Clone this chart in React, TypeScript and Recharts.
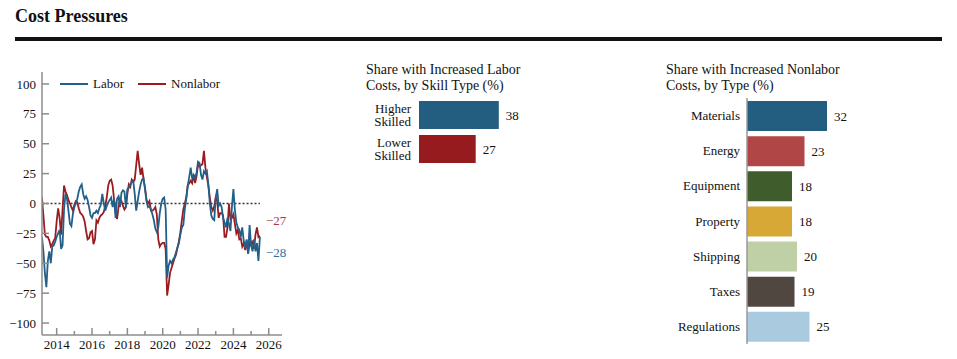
import { LineChart, Line, XAxis, YAxis, ReferenceLine, BarChart, Bar, Cell, LabelList } from "recharts";

const FONT = "'Liberation Serif', 'Times New Roman', serif";

// monthly series, first point is March 2013
const START_YEAR = 2013;
const START_MONTH = 3;

const labor = [
  -28, -40, -58, -70, -48, -40, -50, -36, -35, -32, // 2013
  -28, -25, -22, -38, -35, -5, 8, 4, -6, -17, -19, -9, // 2014
  -3, 0, 4, 10, 14, 16, 8, 4, 6, 3, -3, -10, // 2015
  -12, -8, -8, -6, -8, -4, -1, 8, 0, -6, -2, 1, // 2016
  3, 5, -3, 4, -12, 4, 6, -3, 9, 11, 10, -3, // 2017
  12, 13, 16, 18, 19, 8, -6, 2, 10, 16, 20, 21, // 2018
  12, 2, -3, -2, -5, -9, -14, -21, -24, -20, -8, 0, // 2019
  4, 5, -5, -62, -52, -48, -50, -47, -45, -41, -37, -33, // 2020
  -26, -20, -18, -5, 4, 15, 22, 30, 21, 24, 21, 26, // 2021
  35, 34, 24, 20, 27, 25, 27, 16, 0, -10, -13, -14, // 2022
  5, 12, -2, 0, -3, -12, -16, -20, -12, -17, -23, -3, // 2023
  12, -5, -16, -20, -22, -28, -20, -31, -37, -30, -42, -18, // 2024
  -35, -40, -30, -40, -33, -48, -28, // 2025
];

const nonlabor = [
  5, -10, -26, -28, -28, -31, -36, -34, -31, -29, // 2013
  -15, -4, -12, -26, -5, 15, 10, 7, 3, 0, -3, -6, // 2014
  -1, 2, 1, -4, -8, -9, -11, -15, -23, -30, -29, -24, // 2015
  -23, -34, -30, -14, -16, -12, -10, -9, -7, -2, 5, 15, // 2016
  19, 20, 15, 3, -8, -13, -3, 4, 2, -2, -5, -3, // 2017
  8, 16, 14, 20, 18, 20, 32, 44, 33, 24, 30, 20, // 2018
  13, 3, 0, 2, -6, -6, -5, -3, -9, -30, -36, -34, // 2019
  -33, -33, -38, -77, -68, -58, -54, -50, -46, -43, -37, -32, // 2020
  -24, -14, -5, 0, 5, 15, 17, 19, 17, 24, 17, 23, // 2021
  33, 31, 32, 33, 44, 30, 22, 15, 5, -3, -6, -2, // 2022
  5, 2, -12, -8, -8, -10, -28, -28, -20, 0, -13, -12, // 2023
  -9, -17, -25, -22, -30, -29, -36, -33, -39, -31, -42, -33, // 2024
  -35, -31, -38, -26, -20, -28, -27, // 2025
];

const yTicks = [100, 75, 50, 25, 0, -25, -50, -75, -100];
const xTicks = [2014, 2015, 2016, 2017, 2018, 2019, 2020, 2021, 2022, 2023, 2024, 2025, 2026];

const skillTypes = ["Higher Skilled", "Lower Skilled"];
const skillValues = [38, 27];
const skillColors = ["#235e80", "#961b1e"];

const costTypes = ["Materials", "Energy", "Equipment", "Property", "Shipping", "Taxes", "Regulations"];
const costValues = [32, 23, 18, 18, 20, 19, 25];
const costColors = ["#235e80", "#b04646", "#3e5c2c", "#d8a837", "#bfd0a6", "#514741", "#aacbdf"];

const BLUE = "#236089";
const RED = "#9b1c20";
const AXIS = "#8c8c8c";

const lineData = labor.map((v, i) => ({
  t: START_YEAR + (START_MONTH - 1 + i) / 12,
  labor: v,
  nonlabor: nonlabor[i],
}));
const lastT = lineData[lineData.length - 1].t;

const skillData = skillTypes.map((name, i) => ({ name, value: skillValues[i] }));
const costData = costTypes.map((name, i) => ({ name, value: costValues[i] }));

const fmt = (v: number) => (v < 0 ? "\u2212" + Math.abs(v) : String(v));

function LineYTick({ x, y, payload }: any) {
  return (
    <g>
      <line x1={x} x2={x + 7} y1={y} y2={y} stroke={AXIS} strokeWidth={1.5} />
      <text x={x - 6} y={y} dy="0.35em" textAnchor="end" fontSize={13} fill="#111" fontFamily={FONT}>
        {fmt(payload.value)}
      </text>
    </g>
  );
}

function LineXTick({ x, y, payload }: any) {
  const major = payload.value % 2 === 0;
  return (
    <g>
      <line x1={x} x2={x} y1={y} y2={y - (major ? 7 : 4)} stroke={AXIS} strokeWidth={1.5} />
      {major && (
        <text x={x} y={y + 14} textAnchor="middle" fontSize={13} fill="#111" fontFamily={FONT}>
          {payload.value}
        </text>
      )}
    </g>
  );
}

function endLabel(color: string, dy: number) {
  return (props: any) => {
    if (props.index !== lineData.length - 1) return null;
    return (
      <text x={props.x + 6} y={props.y + dy} dy="0.35em" fontSize={13} fill={color} fontFamily={FONT}>
        {fmt(props.value)}
      </text>
    );
  };
}

function TwoLineTick({ x, y, payload }: any) {
  const [a, b] = String(payload.value).split(" ");
  return (
    <text x={x - 8} y={y} textAnchor="end" fontSize={13} fill="#111" fontFamily={FONT}>
      <tspan x={x - 8} dy={-2.5}>{a}</tspan>
      <tspan x={x - 8} dy={13.5}>{b}</tspan>
    </text>
  );
}

function OneLineTick({ x, y, payload }: any) {
  return (
    <text x={x - 7} y={y} dy="0.35em" textAnchor="end" fontSize={13} fill="#111" fontFamily={FONT}>
      {payload.value}
    </text>
  );
}

const titleStyle: React.CSSProperties = {
  position: "absolute",
  fontFamily: FONT,
  fontSize: 14,
  lineHeight: "15.5px",
  color: "#111",
  whiteSpace: "nowrap",
};

function LegendItem({ left, color, label }: { left: number; color: string; label: string }) {
  return (
    <div style={{ position: "absolute", left, top: 76, display: "flex", alignItems: "center", fontFamily: FONT, fontSize: 13, color: "#111" }}>
      <div style={{ width: 28, height: 2, background: color, marginRight: 5 }} />
      <span>{label}</span>
    </div>
  );
}

export default function App() {
  return (
    <div style={{ position: "absolute", left: 0, top: 0, width: 957, height: 359, background: "#fff", fontFamily: FONT }}>
      <div style={{ position: "absolute", left: 15, top: 7, fontSize: 18, lineHeight: "18px", fontWeight: "bold", color: "#111" }}>
        Cost Pressures
      </div>
      <div style={{ position: "absolute", left: 15, top: 37, width: 927, height: 4, background: "#111" }} />

      {/* left panel: time series */}
      <div style={{ position: "absolute", left: 0, top: 50 }}>
        <LineChart width={300} height={305} data={lineData} margin={{ top: 22, right: 18, bottom: 0, left: 0 }}>
          <XAxis
            dataKey="t"
            type="number"
            domain={[2013.17, 2026.75]}
            ticks={xTicks}
            interval={0}
            allowDataOverflow
            height={20}
            stroke={AXIS}
            strokeWidth={1.5}
            tickLine={false}
            tickSize={0}
            tickMargin={0}
            tick={<LineXTick />}
          />
          <YAxis
            type="number"
            domain={[-110, 110]}
            ticks={yTicks}
            interval={0}
            width={42}
            stroke={AXIS}
            strokeWidth={1.5}
            tickLine={false}
            tickSize={0}
            tickMargin={0}
            tick={<LineYTick />}
          />
          <ReferenceLine
            segment={[{ x: 2013.2, y: 0 }, { x: lastT, y: 0 }]}
            stroke="#333"
            strokeWidth={1.5}
            strokeDasharray="2 2"
          />
          <Line type="linear" dataKey="nonlabor" stroke={RED} strokeWidth={1.8} dot={false} isAnimationActive={false} label={endLabel("#a8393b", -15)} />
          <Line type="linear" dataKey="labor" stroke={BLUE} strokeWidth={1.8} dot={false} isAnimationActive={false} label={endLabel("#2f6f99", 15)} />
        </LineChart>
      </div>
      <LegendItem left={60} color={BLUE} label="Labor" />
      <LegendItem left={138} color={RED} label="Nonlabor" />

      {/* middle panel */}
      <div style={{ ...titleStyle, left: 366, top: 62 }}>
        Share with Increased Labor
        <br />
        Costs, by Skill Type (%)
      </div>
      <div style={{ position: "absolute", left: 339, top: 98 }}>
        <BarChart layout="vertical" width={220} height={68} data={skillData} margin={{ top: 0, right: 14, bottom: 0, left: 0 }}>
          <XAxis type="number" domain={[0, 60]} hide />
          <YAxis type="category" dataKey="name" width={80} axisLine={false} tickLine={false} tickSize={0} tickMargin={0} interval={0} tick={<TwoLineTick />} />
          <Bar dataKey="value" barSize={28} isAnimationActive={false}>
            {skillData.map((d, i) => (
              <Cell key={d.name} fill={skillColors[i]} />
            ))}
            <LabelList dataKey="value" position="right" offset={7} fill="#111" fontSize={13} fontFamily={FONT} />
          </Bar>
        </BarChart>
      </div>

      {/* right panel */}
      <div style={{ ...titleStyle, left: 666, top: 62 }}>
        Share with Increased Nonlabor
        <br />
        Costs, by Type (%)
      </div>
      <div style={{ position: "absolute", left: 651, top: 98 }}>
        <BarChart layout="vertical" width={220} height={246} data={costData} margin={{ top: 0, right: 14, bottom: 0, left: 0 }}>
          <XAxis type="number" domain={[0, 44]} hide />
          <YAxis
            type="category"
            dataKey="name"
            width={96}
            stroke="#999"
            strokeWidth={1.5}
            tickLine={false}
            tickSize={0}
            tickMargin={0}
            interval={0}
            tick={<OneLineTick />}
          />
          <Bar dataKey="value" barSize={30} isAnimationActive={false}>
            {costData.map((d, i) => (
              <Cell key={d.name} fill={costColors[i]} />
            ))}
            <LabelList dataKey="value" position="right" offset={7} fill="#111" fontSize={13} fontFamily={FONT} />
          </Bar>
        </BarChart>
      </div>
    </div>
  );
}
